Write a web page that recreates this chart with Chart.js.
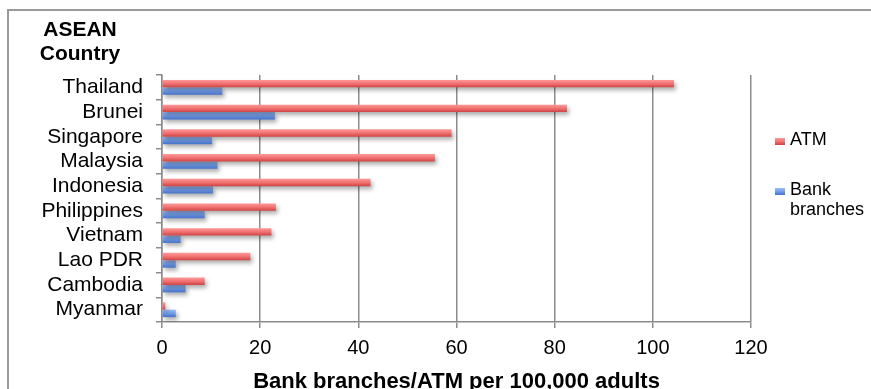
<!DOCTYPE html>
<html>
<head>
<meta charset="utf-8">
<script src="https://cdn.jsdelivr.net/npm/chart.js@4.4.1/dist/chart.umd.min.js"></script>
<style>
  html, body { margin: 0; padding: 0; background: #fff; }
  #wrap { width: 871px; height: 389px; position: relative; }
</style>
</head>
<body>
<div id="wrap"><canvas id="c" width="871" height="389"></canvas></div>
<script>
// Bank branches and ATMs per 100,000 adults, ASEAN member states
const countries = ['Thailand', 'Brunei', 'Singapore', 'Malaysia', 'Indonesia',
                   'Philippines', 'Vietnam', 'Lao PDR', 'Cambodia', 'Myanmar'];
const atm          = [104.3, 82.5, 59.0, 55.6, 42.5, 23.2, 22.3, 18.0, 8.7, 0.7];
const bankBranches = [12.3, 23.0, 10.2, 11.3, 10.4, 8.7, 3.8, 2.8, 4.8, 2.8];
const xTicks = [0, 20, 40, 60, 80, 100, 120];
const seriesNames = ['ATM', 'Bank branches'];
const yTitleLines = ['ASEAN', 'Country'];
const xTitle = 'Bank branches/ATM per 100,000 adults';

const FONT = "'Liberation Sans', Arial, Helvetica, sans-serif";
const GRID = '#8c8c8c';
const CAT_PCT = 0.6;

// vertical shading per bar: light top edge, darker bottom edge
const shades = [
  ['#ff9999', '#f07272', '#cf4343'],
  ['#9dbdf6', '#729ce8', '#4372cc']
];

function barFill(dsIndex) {
  return function (c) {
    const chart = c.chart;
    const ys = chart.scales && chart.scales.y;
    const s = shades[dsIndex];
    if (!ys || ys.height === undefined || c.dataIndex === undefined) return s[1];
    const center = ys.getPixelForValue(c.dataIndex);
    const band = ys.height / countries.length;
    const thick = band * CAT_PCT / 2;
    const y0 = center - thick + dsIndex * thick;
    const g = chart.ctx.createLinearGradient(0, y0, 0, y0 + thick);
    g.addColorStop(0, s[0]);
    g.addColorStop(0.5, s[1]);
    g.addColorStop(1, s[2]);
    return g;
  };
}

// soft drop shadow beneath the bars
const barShadow = {
  id: 'barShadow',
  beforeDatasetsDraw(chart) {
    const ctx = chart.ctx;
    ctx.save();
    ctx.shadowColor = 'rgba(0,0,0,0.32)';
    ctx.shadowBlur = 4;
    ctx.shadowOffsetX = 2;
    ctx.shadowOffsetY = 3;
  },
  afterDatasetsDraw(chart) {
    chart.ctx.restore();
  }
};

// outer frame, horizontal y-axis caption and the side legend
const decorations = {
  id: 'decorations',
  beforeDraw(chart) {
    const ctx = chart.ctx;
    ctx.save();
    ctx.fillStyle = '#fff';
    ctx.fillRect(0, 0, chart.width, chart.height);
    ctx.strokeStyle = '#9a9a9a';
    ctx.lineWidth = 2;
    ctx.strokeRect(8, 10, chart.width + 20, chart.height + 20);
    ctx.restore();
  },
  afterDraw(chart) {
    const ctx = chart.ctx;
    ctx.save();
    ctx.fillStyle = '#000';
    ctx.textAlign = 'center';
    ctx.textBaseline = 'middle';
    ctx.font = 'bold 21px ' + FONT;
    yTitleLines.forEach((t, i) => ctx.fillText(t, 80, 30 + i * 24));

    // legend
    ctx.font = '18px ' + FONT;
    ctx.textAlign = 'left';
    const lx = 775, tx = 790, maxW = 78;
    const rowsY = [140, 190];
    chart.data.datasets.forEach((ds, i) => {
      const words = ds.label.split(' ');
      const lines = [];
      let cur = '';
      words.forEach(w => {
        const trial = cur ? cur + ' ' + w : w;
        if (cur && ctx.measureText(trial).width > maxW) { lines.push(cur); cur = w; }
        else cur = trial;
      });
      if (cur) lines.push(cur);
      const y = rowsY[i];
      const s = shades[i];
      const g = ctx.createLinearGradient(0, y - 2, 0, y + 5);
      g.addColorStop(0, s[0]); g.addColorStop(0.5, s[1]); g.addColorStop(1, s[2]);
      ctx.fillStyle = g;
      ctx.fillRect(lx, y - 2, 10, 7);
      ctx.fillStyle = '#000';
      lines.forEach((ln, k) => ctx.fillText(ln, tx, y + k * 20));
    });
    ctx.restore();
  }
};

new Chart(document.getElementById('c'), {
  type: 'bar',
  data: {
    labels: countries,
    datasets: [
      { label: seriesNames[0], data: atm, backgroundColor: barFill(0), borderWidth: 0,
        categoryPercentage: CAT_PCT, barPercentage: 1.0 },
      { label: seriesNames[1], data: bankBranches, backgroundColor: barFill(1), borderWidth: 0,
        categoryPercentage: CAT_PCT, barPercentage: 1.0 }
    ]
  },
  options: {
    indexAxis: 'y',
    responsive: false,
    devicePixelRatio: 1,
    animation: false,
    layout: { padding: { top: 75, right: 120, left: 0, bottom: 0 } },
    plugins: {
      legend: { display: false },
      tooltip: { enabled: false },
      title: { display: false }
    },
    scales: {
      y: {
        type: 'category',
        afterFit(scale) { scale.width = 162; },
        grid: { display: true, drawOnChartArea: false, drawTicks: true, tickLength: 6,
                color: GRID, lineWidth: 1.5, offset: true },
        border: { display: true, color: GRID, width: 1.5 },
        ticks: { font: { family: FONT, size: 21 }, color: '#000', padding: 13,
                 autoSkip: false }
      },
      x: {
        type: 'linear',
        min: xTicks[0],
        max: xTicks[xTicks.length - 1],
        afterFit(scale) { scale.height = 67; },
        afterBuildTicks(scale) { scale.ticks = xTicks.map(v => ({ value: v })); },
        grid: { color: GRID, lineWidth: 1.5, tickLength: 6, drawTicks: true },
        border: { display: true, color: GRID, width: 1.5 },
        ticks: { font: { family: FONT, size: 20 }, color: '#000', padding: 8 },
        title: { display: true, text: xTitle, color: '#000',
                 font: { family: FONT, size: 22, weight: 'bold' },
                 padding: { top: 0, bottom: -6 } }
      }
    }
  },
  plugins: [decorations, barShadow]
});
</script>
</body>
</html>
